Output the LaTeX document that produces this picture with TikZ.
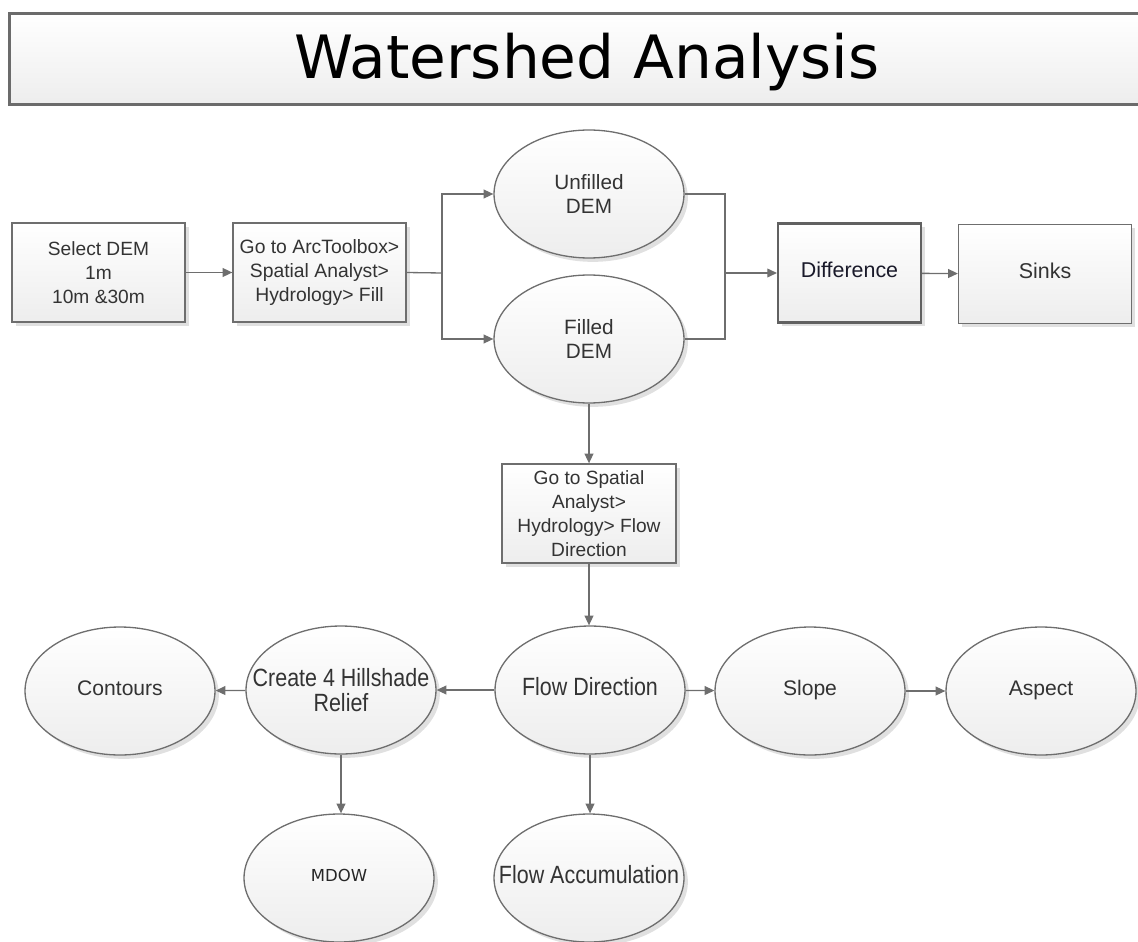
\documentclass[tikz,border=0pt]{standalone}
\usepackage{fontspec}
\setmainfont{Liberation Sans}
\newfontfamily\titlefont{DejaVu Sans}
\newfontfamily\narrowfont[FakeStretch=0.86]{Liberation Sans}
\newfontfamily\smallfont{DejaVu Sans}
\usetikzlibrary{arrows.meta,shapes.geometric,shadows}
\definecolor{linegray}{HTML}{6E6E6E}
\definecolor{txtgray}{HTML}{333333}
\definecolor{shadowgray}{HTML}{D8D8D8}
\begin{document}
\begin{tikzpicture}[x=0.02cm,y=-0.02cm,
  base/.style={draw=linegray, line width=0.75pt, top color=white, bottom color=black!7,
    text=txtgray, font=\fontsize{10.9}{13.6}\selectfont, align=center,
    drop shadow={shadow xshift=2.2pt, shadow yshift=-2.2pt, fill=shadowgray, opacity=0.8}},
  procbox/.style={base, rectangle, minimum width=3.46cm, minimum height=1.98cm, inner sep=1pt},
  oval/.style={base, ellipse, minimum width=3.8cm, minimum height=2.56cm, inner sep=0pt,
    font=\fontsize{12}{14}\selectfont},
  narrowtxt/.style={font=\narrowfont\fontsize{14.2}{14.6}\selectfont, inner xsep=-40pt},
  conn/.style={draw=linegray, line width=0.75pt},
  arr/.style={conn, -{Triangle[length=5.5pt,width=5pt]}}
]
\useasboundingbox (0,0) rectangle (1138,942);
\clip (0,0) rectangle (1138,942);
% title
\node[draw=black!58, line width=1.8pt, top color=white, bottom color=black!7, rectangle,
  minimum width=23.0cm, minimum height=1.82cm, anchor=north west, inner sep=0pt] (titlebox) at (8,12) {};
\node[font=\titlefont\fontsize{34}{36}\selectfont, text=black] (title) at (587,62) {Watershed Analysis};

% top row
\node[procbox] (sel) at (98.5,272.5) {Select DEM\\1m\\10m \&30m};
\node[procbox, font=\fontsize{11}{13.6}\selectfont] (arc) at (319.5,272.5) {Go to ArcToolbox\textgreater\\Spatial Analyst\textgreater\\Hydrology\textgreater{} Fill};
\node[oval, font=\fontsize{11.8}{14}\selectfont] (unf) at (589,194) {Unfilled\\DEM};
\node[oval, font=\fontsize{11.8}{14}\selectfont] (fil) at (589,339) {Filled\\DEM};
\node[procbox, draw=black!62, line width=1.2pt, minimum width=2.86cm, font=\fontsize{12.2}{14}\selectfont] (diff) at (849.5,273) {\color[HTML]{1A1A2A}\strut Difference};
\node[procbox, font=\fontsize{12.2}{14}\selectfont] (sink) at (1045,274) {\strut Sinks};

\node[procbox, minimum width=3.48cm] (fdtool) at (589,513.5) {Go to Spatial\\Analyst\textgreater\\Hydrology\textgreater{} Flow\\Direction};

% ellipses row
\node[oval, narrowtxt] (fd) at (590,690) {\strut Flow Direction};
\node[oval, narrowtxt] (hill) at (341,690) {Create 4 Hillshade\\Relief};
\node[oval] (cont) at (120,691) {\strut Contours};
\node[oval] (slope) at (810,691) {\strut Slope};
\node[oval] (asp) at (1041,691) {\strut Aspect};
\node[oval, font=\smallfont\fontsize{9.4}{11}\selectfont, text=black!85] (mdow) at (339,878) {\strut MDOW};
\node[oval, narrowtxt] (facc) at (589,878) {\strut Flow Accumulation};

% connectors
\coordinate (split) at (442,273);
\coordinate (merge) at (725,273);
\draw[arr] (sel) -- (arc);
\draw[conn] (arc.east) -- (split);
\draw[arr] (split) |- (unf.west);
\draw[arr] (split) |- (fil.west);
\draw[conn] (unf.east) -| (merge);
\draw[conn] (fil.east) -| (merge);
\draw[arr] (merge) -- (diff.west);
\draw[arr] (diff) -- (sink);
\draw[arr] (fil.south) -- (fdtool.north);
\draw[arr] (fdtool.south) -- (fdtool.south |- fd.north);
\draw[arr] (fd) -- (hill);
\draw[arr] (hill) -- (cont);
\draw[arr] (fd) -- (slope);
\draw[arr] (slope) -- (asp);
\draw[arr] (hill.south) -- (hill.south |- mdow.north);
\draw[arr] (fd.south) -- (fd.south |- facc.north);
\end{tikzpicture}
\end{document}
